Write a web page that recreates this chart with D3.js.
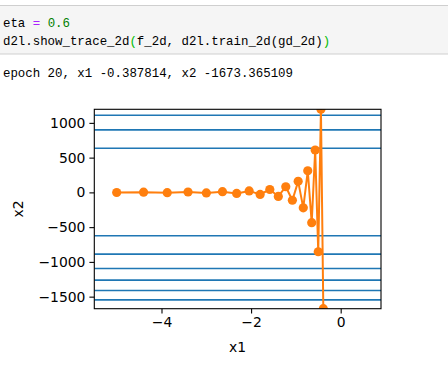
<!DOCTYPE html>
<html>
<head>
<meta charset="utf-8">
<script src="https://cdn.jsdelivr.net/npm/d3@7"></script>
<style>
  body { margin: 0; background: #fff; width: 448px; height: 365px; overflow: hidden; }
  svg { display: block; }
</style>
</head>
<body>
<svg id="chart" width="448" height="365"></svg>
<script>
// trace of gradient descent, eta = 0.6
const x1Trace = [-5, -4.4, -3.872, -3.40736, -2.99848, -2.63866, -2.32202, -2.04338, -1.79817,
  -1.58239, -1.3925, -1.2254, -1.07836, -0.94895, -0.83508, -0.73487, -0.64668, -0.56908,
  -0.50079, -0.4407, -0.387814];
const x2Trace = [-2, 2.8, -3.92, 5.488, -7.6832, 10.7565, -15.0591, 21.0827, -29.5158, 41.3221,
  -57.8509, 80.9913, -113.388, 158.743, -222.24, 311.136, -435.591, 609.827, -853.758,
  1195.261, -1673.365109];
// horizontal contour lines seen in the picture
const contourLevels = [1109, 899, 634, -624, -888, -1095, -1262, -1412, -1546];
const xTicks = [-4, -2, 0];
const yTicks = [-1500, -1000, -500, 0, 500, 1000];

const svg = d3.select('#chart');
const mono = '"Liberation Mono", "DejaVu Sans Mono", monospace';
const sans = '"DejaVu Sans", sans-serif';

// notebook cell
svg.append('rect').attr('x', -1).attr('y', 5.5).attr('width', 450).attr('height', 48.5)
  .attr('fill', '#f5f5f5').attr('stroke', '#cfcfcf').attr('stroke-width', 1);

const code1 = svg.append('text').attr('x', 3).attr('y', 26.5)
  .style('font-family', mono).style('font-size', '12.4px').attr('xml:space', 'preserve');
code1.append('tspan').text('eta ');
code1.append('tspan').attr('fill', '#aa22ff').text('=');
code1.append('tspan').text(' ');
code1.append('tspan').attr('fill', '#008000').text('0.6');

const code2 = svg.append('text').attr('x', 3).attr('y', 44.5)
  .style('font-family', mono).style('font-size', '12.4px').attr('xml:space', 'preserve');
code2.append('tspan').text('d2l.show_trace_2d');
code2.append('tspan').attr('fill', '#00bb00').text('(');
code2.append('tspan').text('f_2d, d2l.train_2d(gd_2d)');
code2.append('tspan').attr('fill', '#00bb00').text(')');

svg.append('text').attr('x', 3).attr('y', 76.5)
  .style('font-family', mono).style('font-size', '12.4px').attr('xml:space', 'preserve')
  .text('epoch 20, x1 -0.387814, x2 -1673.365109');

// axes
const L = 94.3, R = 381, T = 109.3, B = 308.7;
const x = d3.scaleLinear().domain([-5.5, 0.9]).range([L, R]);
const y = d3.scaleLinear().domain([d3.min(x2Trace), d3.max(x2Trace)]).range([B, T]);

svg.append('clipPath').attr('id', 'clip')
  .append('rect').attr('x', L).attr('y', T).attr('width', R - L).attr('height', B - T);

const plot = svg.append('g').attr('clip-path', 'url(#clip)');

plot.selectAll('.lvl').data(contourLevels).enter().append('line')
  .attr('x1', L).attr('x2', R)
  .attr('y1', d => y(d)).attr('y2', d => y(d))
  .attr('stroke', '#1f77b4').attr('stroke-width', 1.6);

const pts = x1Trace.map((v, i) => [v, x2Trace[i]]);
plot.append('path').datum(pts)
  .attr('d', d3.line().x(d => x(d[0])).y(d => y(d[1])))
  .attr('fill', 'none').attr('stroke', '#ff7f0e').attr('stroke-width', 2);
plot.selectAll('.pt').data(pts).enter().append('circle')
  .attr('cx', d => x(d[0])).attr('cy', d => y(d[1])).attr('r', 4.6)
  .attr('fill', '#ff7f0e');

const xAxis = svg.append('g').attr('transform', `translate(0,${B})`)
  .call(d3.axisBottom(x).tickValues(xTicks).tickSize(4.9).tickPadding(4).tickFormat(d3.format('')));
const yAxis = svg.append('g').attr('transform', `translate(${L},0)`)
  .call(d3.axisLeft(y).tickValues(yTicks).tickSize(4.9).tickPadding(4).tickFormat(d3.format('')));
[xAxis, yAxis].forEach(a => {
  a.select('.domain').remove();
  a.selectAll('line').attr('stroke', '#000').attr('stroke-width', 1.1);
  a.selectAll('text').style('font-family', sans).style('font-size', '13.9px').attr('fill', '#000')
    .text(d => String(d).replace('-', '\u2212'));
});

svg.append('rect').attr('x', L).attr('y', T).attr('width', R - L).attr('height', B - T)
  .attr('fill', 'none').attr('stroke', '#000').attr('stroke-width', 1.1);

svg.append('text').attr('x', (L + R) / 2).attr('y', 352).attr('text-anchor', 'middle')
  .style('font-family', sans).style('font-size', '13.9px').text('x1');
svg.append('text').attr('transform', `translate(23,${(T + B) / 2}) rotate(-90)`)
  .attr('text-anchor', 'middle')
  .style('font-family', sans).style('font-size', '13.9px').text('x2');
</script>
</body>
</html>
